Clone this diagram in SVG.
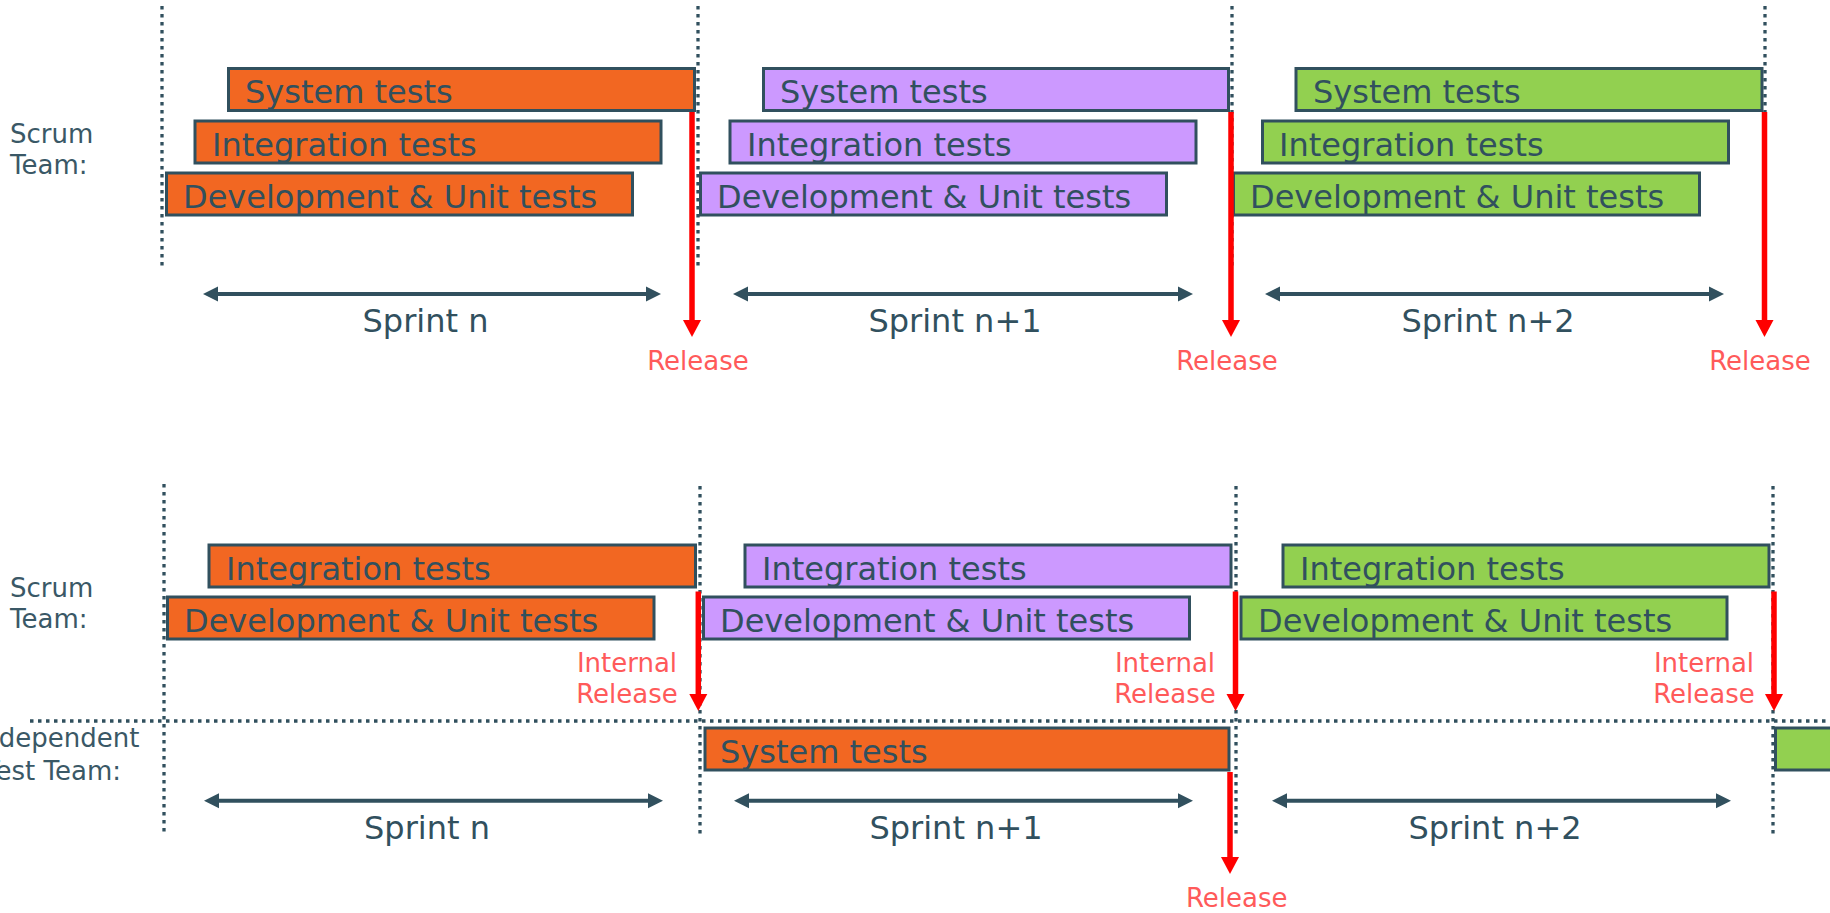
<svg xmlns="http://www.w3.org/2000/svg" width="1830" height="913" viewBox="0 0 1830 913">
  <style>
    .bar { stroke: #31505e; stroke-width: 3; }
    .o { fill: #f26722; }
    .p { fill: #cc99ff; }
    .g { fill: #92d050; }
    .bt { font-family: "DejaVu Sans", Verdana, sans-serif; font-size: 32px; fill: #31505e; }
    .lbl { font-family: "DejaVu Sans", Verdana, sans-serif; font-size: 26px; fill: #3a5866; }
    .lbl-r { font-family: "DejaVu Sans", Verdana, sans-serif; font-size: 26px; fill: #3a5866; text-anchor: end; }
    .rel { font-family: "DejaVu Sans", Verdana, sans-serif; font-size: 26px; fill: #ff5a5a; text-anchor: middle; }
    .spr { font-family: "DejaVu Sans", Verdana, sans-serif; font-size: 32px; fill: #31505e; text-anchor: middle; }
    .dot { stroke: #31505e; stroke-width: 3.3; stroke-dasharray: 3.5 4.5; fill: none; }
    .span { stroke: #31505e; stroke-width: 4; fill: none; marker-start: url(#spanHead); marker-end: url(#spanHead); }
    .red { stroke: #ff0000; stroke-width: 5.5; fill: none; marker-end: url(#redHead); }
  </style>
  <defs>
    <marker id="spanHead" markerUnits="userSpaceOnUse" markerWidth="15" markerHeight="15" refX="3" refY="7.5" orient="auto-start-reverse" overflow="visible">
      <path d="M0,0 L15,7.5 L0,15 Z" fill="#31505e"/>
    </marker>
    <marker id="redHead" markerUnits="userSpaceOnUse" markerWidth="18" markerHeight="18" refX="3" refY="9" orient="auto" overflow="visible">
      <path d="M0,0 L17,9 L0,18 Z" fill="#ff0000"/>
    </marker>
  </defs>

  <!-- sprint boundaries -->
  <g id="grid">
    <line class="dot" x1="162" y1="6" x2="162" y2="266"/>
    <line class="dot" x1="698" y1="6" x2="698" y2="266"/>
    <line class="dot" x1="1232" y1="6" x2="1232" y2="266"/>
    <line class="dot" x1="1765" y1="6" x2="1765" y2="266"/>
    <line class="dot" x1="164" y1="484" x2="164" y2="834"/>
    <line class="dot" x1="700" y1="486" x2="700" y2="836"/>
    <line class="dot" x1="1236" y1="486" x2="1236" y2="836"/>
    <line class="dot" x1="1773" y1="486" x2="1773" y2="836"/>
    <line class="dot" x1="30" y1="721" x2="1830" y2="721"/>
  </g>

  <!-- team labels -->
  <g id="labels">
    <text class="lbl" x="10" y="142.7">Scrum</text>
    <text class="lbl" x="10" y="174">Team:</text>
    <text class="lbl" x="10" y="596.7">Scrum</text>
    <text class="lbl" x="10" y="628.3">Team:</text>
    <text class="lbl-r" x="139.5" y="746.7">Independent</text>
    <text class="lbl-r" x="121" y="780">Test Team:</text>
  </g>

  <!-- scrum-team-only process -->
  <g id="top-sprint-n">
    <rect class="bar o" x="228.5" y="68.5" width="466" height="42"/>
    <text class="bt" x="245" y="103.3">System tests</text>
    <rect class="bar o" x="195" y="121" width="466" height="42"/>
    <text class="bt" x="212" y="155.8">Integration tests</text>
    <rect class="bar o" x="166.5" y="173" width="466" height="42"/>
    <text class="bt" x="183" y="207.8">Development &amp; Unit tests</text>
  </g>
  <g id="top-sprint-n1">
    <rect class="bar p" x="763.5" y="68.5" width="465" height="42"/>
    <text class="bt" x="780" y="103.3">System tests</text>
    <rect class="bar p" x="730" y="121" width="466" height="42"/>
    <text class="bt" x="747" y="155.8">Integration tests</text>
    <rect class="bar p" x="700.5" y="173" width="466" height="42"/>
    <text class="bt" x="717" y="207.8">Development &amp; Unit tests</text>
  </g>
  <g id="top-sprint-n2">
    <rect class="bar g" x="1296" y="68.5" width="466" height="42"/>
    <text class="bt" x="1313" y="103.3">System tests</text>
    <rect class="bar g" x="1262.5" y="121" width="466" height="42"/>
    <text class="bt" x="1279" y="155.8">Integration tests</text>
    <rect class="bar g" x="1233.5" y="173" width="466" height="42"/>
    <text class="bt" x="1250" y="207.8">Development &amp; Unit tests</text>
  </g>

  <!-- process with an independent test team -->
  <g id="bottom-sprint-n">
    <rect class="bar o" x="209" y="545" width="486.5" height="42"/>
    <text class="bt" x="226" y="579.8">Integration tests</text>
    <rect class="bar o" x="167.5" y="597" width="486.5" height="42"/>
    <text class="bt" x="184" y="631.8">Development &amp; Unit tests</text>
  </g>
  <g id="bottom-sprint-n1">
    <rect class="bar p" x="745" y="545" width="486" height="42"/>
    <text class="bt" x="762" y="579.8">Integration tests</text>
    <rect class="bar p" x="703.5" y="597" width="486" height="42"/>
    <text class="bt" x="720" y="631.8">Development &amp; Unit tests</text>
  </g>
  <g id="bottom-sprint-n2">
    <rect class="bar g" x="1283" y="545" width="486" height="42"/>
    <text class="bt" x="1300" y="579.8">Integration tests</text>
    <rect class="bar g" x="1241" y="597" width="486" height="42"/>
    <text class="bt" x="1258" y="631.8">Development &amp; Unit tests</text>
  </g>
  <g id="test-team">
    <rect class="bar o" x="705" y="728" width="524" height="42"/>
    <text class="bt" x="720" y="762.8">System tests</text>
    <rect class="bar g" x="1775.5" y="728" width="100" height="42"/>
  </g>

  <!-- connectors -->
  <g id="connectors">
    <line class="span" x1="215" y1="294" x2="649" y2="294"/>
    <line class="span" x1="745" y1="294" x2="1181" y2="294"/>
    <line class="span" x1="1277" y1="294" x2="1712" y2="294"/>
    <line class="span" x1="216" y1="800.7" x2="651" y2="800.7"/>
    <line class="span" x1="746" y1="800.7" x2="1181" y2="800.7"/>
    <line class="span" x1="1284" y1="800.7" x2="1719" y2="800.7"/>

    <line class="red" x1="692" y1="112" x2="692" y2="323"/>
    <line class="red" x1="1231" y1="112" x2="1231" y2="323"/>
    <line class="red" x1="1764.5" y1="112" x2="1764.5" y2="323"/>
    <line class="red" x1="698.3" y1="591.5" x2="698.3" y2="697"/>
    <line class="red" x1="1235.5" y1="591.5" x2="1235.5" y2="697"/>
    <line class="red" x1="1774" y1="591.5" x2="1774" y2="697"/>
    <line class="red" x1="1230" y1="772" x2="1230" y2="860"/>
  </g>

  <!-- sprint and release labels -->
  <g id="annotations">
    <text class="spr" x="425.5" y="331.7">Sprint n</text>
    <text class="spr" x="955" y="331.7">Sprint n+1</text>
    <text class="spr" x="1488" y="331.7">Sprint n+2</text>
    <text class="spr" x="427" y="839">Sprint n</text>
    <text class="spr" x="956" y="839">Sprint n+1</text>
    <text class="spr" x="1495" y="839">Sprint n+2</text>

    <text class="rel" x="698" y="370">Release</text>
    <text class="rel" x="1227" y="370">Release</text>
    <text class="rel" x="1760" y="370">Release</text>
    <text class="rel" x="627" y="671.7">Internal</text>
    <text class="rel" x="627" y="703.3">Release</text>
    <text class="rel" x="1165" y="671.7">Internal</text>
    <text class="rel" x="1165" y="703.3">Release</text>
    <text class="rel" x="1704" y="671.7">Internal</text>
    <text class="rel" x="1704" y="703.3">Release</text>
    <text class="rel" x="1236.7" y="906.7">Release</text>
  </g>
</svg>
